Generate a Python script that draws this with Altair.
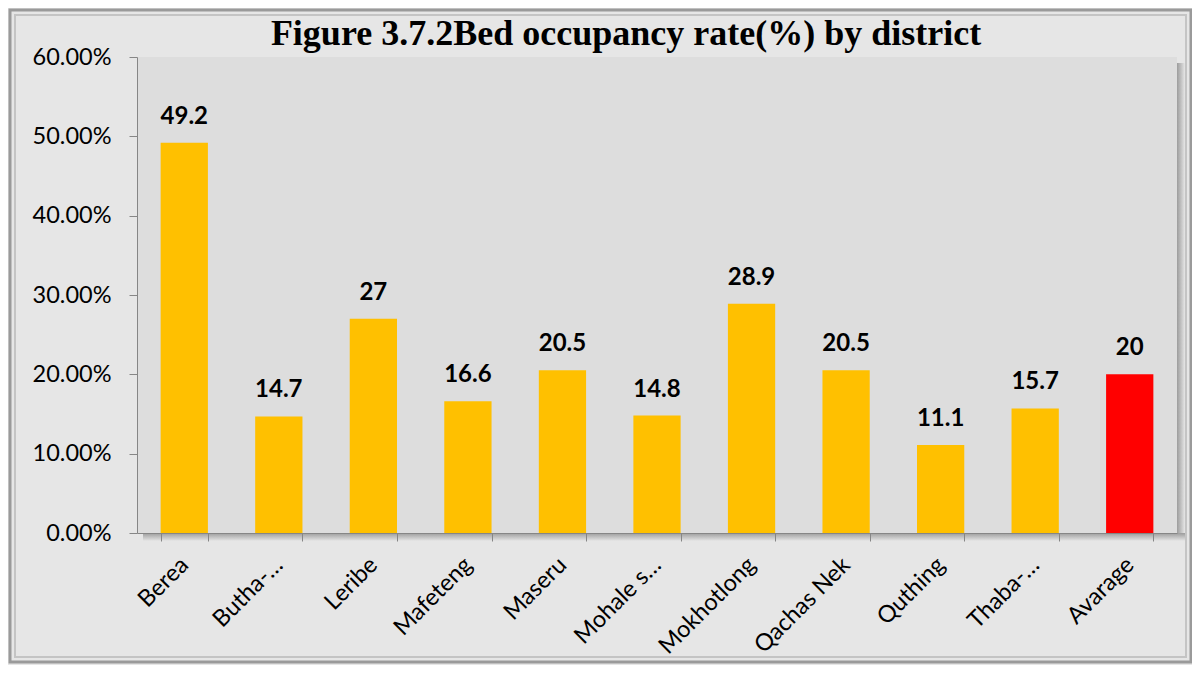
import altair as alt
import pandas as pd

districts = ["Berea", "Butha-…", "Leribe", "Mafeteng", "Maseru", "Mohale s…",
             "Mokhotlong", "Qachas Nek", "Quthing", "Thaba-…", "Avarage"]
rates = [49.2, 14.7, 27, 16.6, 20.5, 14.8, 28.9, 20.5, 11.1, 15.7, 20]
kinds = ["district"] * 10 + ["average"]

df = pd.DataFrame({"district": districts, "rate": rates, "kind": kinds})
df["frac"] = df["rate"] / 100.0
df["label"] = ["{:g}".format(r) for r in rates]

W, H = 1040, 476
FONT = "Lato"
FS = 23.5

x = alt.X("district:N", sort=districts, title=None,
          scale=alt.Scale(paddingInner=0.5, paddingOuter=0.25),
          axis=alt.Axis(labelAngle=-45, labelAlign="right", labelBaseline="middle",
                        labelFontSize=FS, labelFont=FONT, labelColor="#000000",
                        labelPadding=20, tickBand="extent", tickSize=8,
                        domainColor="#868686", tickColor="#868686", labelLimit=250,
                        zindex=1))

bars = alt.Chart(df).mark_bar().encode(
    x=x,
    y=alt.Y("frac:Q", title=None,
            scale=alt.Scale(domain=[0, 0.6]),
            axis=alt.Axis(format=".2%", values=[0, 0.1, 0.2, 0.3, 0.4, 0.5, 0.6],
                          labelFontSize=FS, labelFont=FONT, labelColor="#000000",
                          labelPadding=18, tickSize=8, grid=False,
                          domainColor="#868686", tickColor="#868686", zindex=1)),
    color=alt.Color("kind:N", scale=alt.Scale(domain=["district", "average"],
                                              range=["#FFC000", "#FF0000"]), legend=None),
)

labels = alt.Chart(df).mark_text(fontSize=24, fontWeight="bold", font=FONT,
                                 baseline="alphabetic", dy=-19, color="#000000").encode(
    x=alt.X("district:N", sort=districts),
    y=alt.Y("frac:Q"),
    text=alt.Text("label:N"),
)

one = pd.DataFrame({"a": [0]})

frame = alt.Chart(one).mark_rect(
    fill=None, stroke="#9a9a9a", strokeWidth=3).encode(
    x=alt.value(-127), x2=alt.value(W + 14),
    y=alt.value(-47), y2=alt.value(H + 129),
)
frame_inner = alt.Chart(one).mark_rect(
    fill=None, stroke="#c4c4c4", strokeWidth=2).encode(
    x=alt.value(-122), x2=alt.value(W + 9),
    y=alt.value(-42), y2=alt.value(H + 124),
)

shadow_right = alt.Chart(one).mark_rect(
    color=alt.LinearGradient(gradient="linear", x1=0, x2=1, y1=0, y2=0,
                             stops=[alt.GradientStop(color="#9c9c9c", offset=0),
                                    alt.GradientStop(color="#E6E6E6", offset=1)])
).encode(x=alt.value(W), x2=alt.value(W + 8), y=alt.value(6), y2=alt.value(H + 8))

shadow_bottom = alt.Chart(one).mark_rect(
    color=alt.LinearGradient(gradient="linear", x1=0, x2=0, y1=0, y2=1,
                             stops=[alt.GradientStop(color="#9c9c9c", offset=0),
                                    alt.GradientStop(color="#E6E6E6", offset=1)])
).encode(x=alt.value(6), x2=alt.value(W + 8), y=alt.value(H), y2=alt.value(H + 8))

chart = alt.layer(frame, frame_inner, shadow_right, shadow_bottom, bars, labels).properties(
    width=W, height=H,
    autosize=alt.AutoSizeParams(type="none"),
    padding={"left": 129, "top": 49, "right": 15, "bottom": 132},
    background="#E6E6E6",
    title=alt.TitleParams("Figure 3.7.2Bed occupancy rate(%) by district",
                          font="Liberation Serif", fontSize=36, fontWeight="bold",
                          color="#000000", anchor="middle", dx=-31, offset=0,
                          baseline="alphabetic", dy=72, frame="group"),
).configure_view(fill="#DDDDDD", stroke=None)

chart.save("out.html", embed_options={"renderer": "svg", "actions": False})
